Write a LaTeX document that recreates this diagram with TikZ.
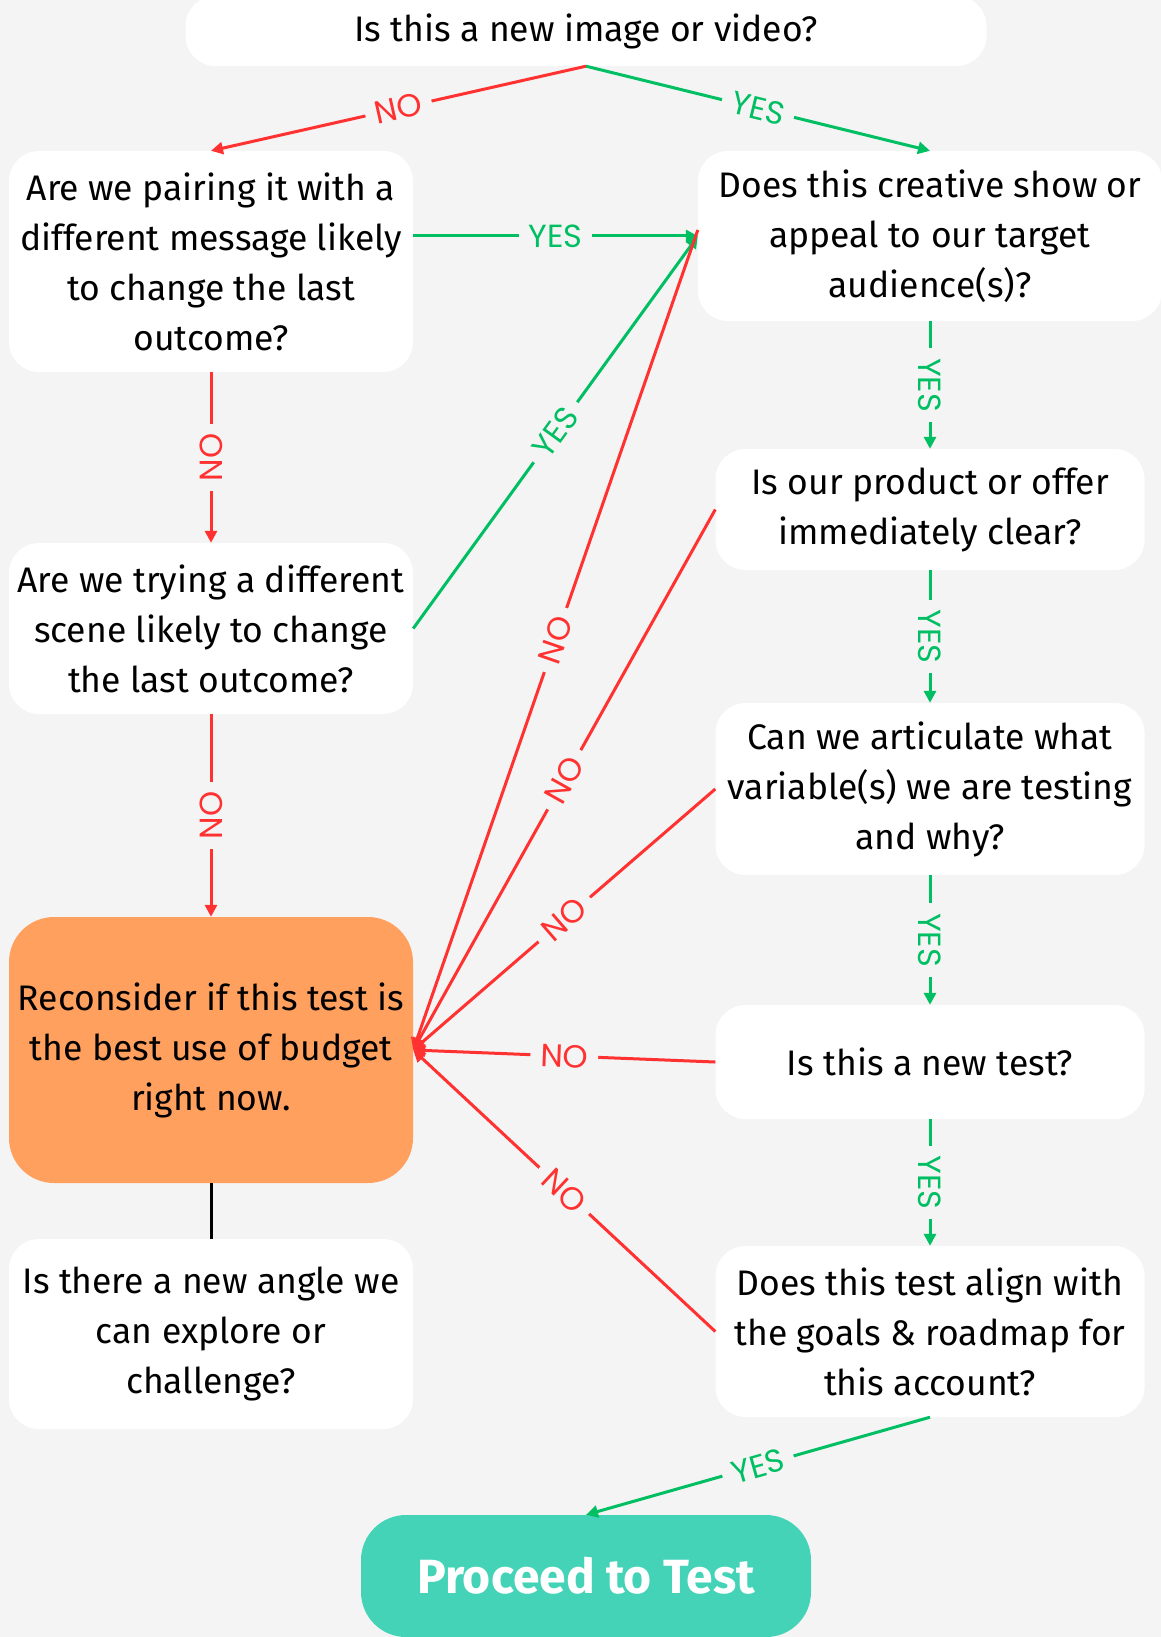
\documentclass[tikz,border=0pt]{standalone}
\usepackage{fontspec}
\setmainfont{Fira Sans}
\newfontfamily\lblfont{Poppins}
\usetikzlibrary{arrows.meta}
\definecolor{bgc}{HTML}{F4F4F4}
\definecolor{nored}{HTML}{FF3131}
\definecolor{yesgreen}{HTML}{00BF63}
\definecolor{recon}{HTML}{FFA05F}
\definecolor{proceed}{HTML}{45D3B8}
\begin{document}
\begin{tikzpicture}[x=1pt,y=-1pt,
  qbox/.style={fill=white, rounded corners=30pt, align=center, inner sep=0pt,
    font=\fontsize{35.5}{50}\selectfont},
  leftbox/.style={qbox, minimum width=404pt},
  rightbox/.style={qbox, minimum width=429pt},
  noline/.style={draw=nored, line width=3pt},
  yesline/.style={draw=yesgreen, line width=3pt},
  tip/.style={-{Triangle[length=12pt,width=12pt]}},
  lbl/.style={fill=bgc, inner xsep=10pt, inner ysep=4pt, font=\lblfont\fontsize{32}{32}\selectfont},
  nolbl/.style={lbl, text=nored},
  yeslbl/.style={lbl, text=yesgreen}]
\useasboundingbox (0,0) rectangle (1161,1637);
\fill[bgc] (0,0) rectangle (1161,1637);

% nodes
\node[qbox, minimum width=801pt, minimum height=70pt] (top) at (586,31) {Is this a new image or video?};
\node[leftbox, minimum height=221pt] (left1) at (211,261.5) {Are we pairing it with a\\different message likely\\to change the last\\outcome?};
\node[qbox, minimum width=464pt, minimum height=170pt] (right1) at (930,236) {Does this creative show or\\appeal to our target\\audience(s)?};
\node[leftbox, minimum height=171pt] (left2) at (211,628.5) {Are we trying a different\\scene likely to change\\the last outcome?};
\node[rightbox, minimum height=121pt] (right2) at (930,509.5) {Is our product or offer\\immediately clear?};
\node[rightbox, minimum height=172pt] (right3) at (930,789) {Can we articulate what\\variable(s) we are testing\\and why?};
\node[leftbox, minimum height=266pt, fill=recon, rounded corners=45pt] (recon) at (211,1050) {Reconsider if this test is\\the best use of budget\\right now.};
\node[rightbox, minimum height=114pt] (right4) at (930,1062) {Is this a new test?};
\node[leftbox, minimum height=190pt] (left3) at (211,1334) {Is there a new angle we\\can explore or\\challenge?};
\node[rightbox, minimum height=171pt] (right5) at (930,1331.5) {Does this test align with\\the goals \& roadmap for\\this account?};
\node[qbox, fill=proceed, rounded corners=45pt, minimum width=450pt, minimum height=122pt,
  text=white, font=\fontsize{48}{48}\selectfont\bfseries] (proc) at (586,1576) {Proceed to Test};

% top branches
\draw[noline, tip] (top.south) -- node[nolbl, sloped] {NO} (left1.north);
\draw[yesline, tip] (top.south) -- node[yeslbl, sloped] {YES} (right1.north);

% left column
\draw[yesline, tip] (left1.east |- right1.west) -- node[yeslbl] {YES} (right1.west);
\draw[noline, tip] (left1.south) -- node[nolbl, rotate=90] {NO} (left2.north);
\draw[noline, tip] (left2.south) -- node[nolbl, rotate=90] {NO} (recon.north);
\draw[yesline, tip] (left2.east) -- node[yeslbl, sloped] {YES} (right1.west);
\draw[black, line width=3pt] (recon.south) -- (left3.north);

% right column
\draw[yesline, tip] (right1.south) -- node[yeslbl, rotate=-90] {YES} (right2.north);
\draw[yesline, tip] (right2.south) -- node[yeslbl, rotate=-90] {YES} (right3.north);
\draw[yesline, tip] (right3.south) -- node[yeslbl, rotate=-90] {YES} (right4.north);
\draw[yesline, tip] (right4.south) -- node[yeslbl, rotate=-90] {YES} (right5.north);
\draw[yesline, tip] (right5.south) -- node[yeslbl, sloped] {YES} (proc.north);

% NO branches to reconsider
\draw[noline, tip] ([yshift=6pt]right1.west) -- node[nolbl, sloped] {NO} (recon.east);
\draw[noline, tip] (right2.west) -- node[nolbl, sloped] {NO} (recon.east);
\draw[noline, tip] (right3.west) -- node[nolbl, sloped] {NO} (recon.east);
\draw[noline, tip] (right4.west) -- node[nolbl, sloped] {NO} (recon.east);
\draw[noline, tip] (right5.west) -- node[nolbl, sloped] {NO} (recon.east);
\end{tikzpicture}
\end{document}
